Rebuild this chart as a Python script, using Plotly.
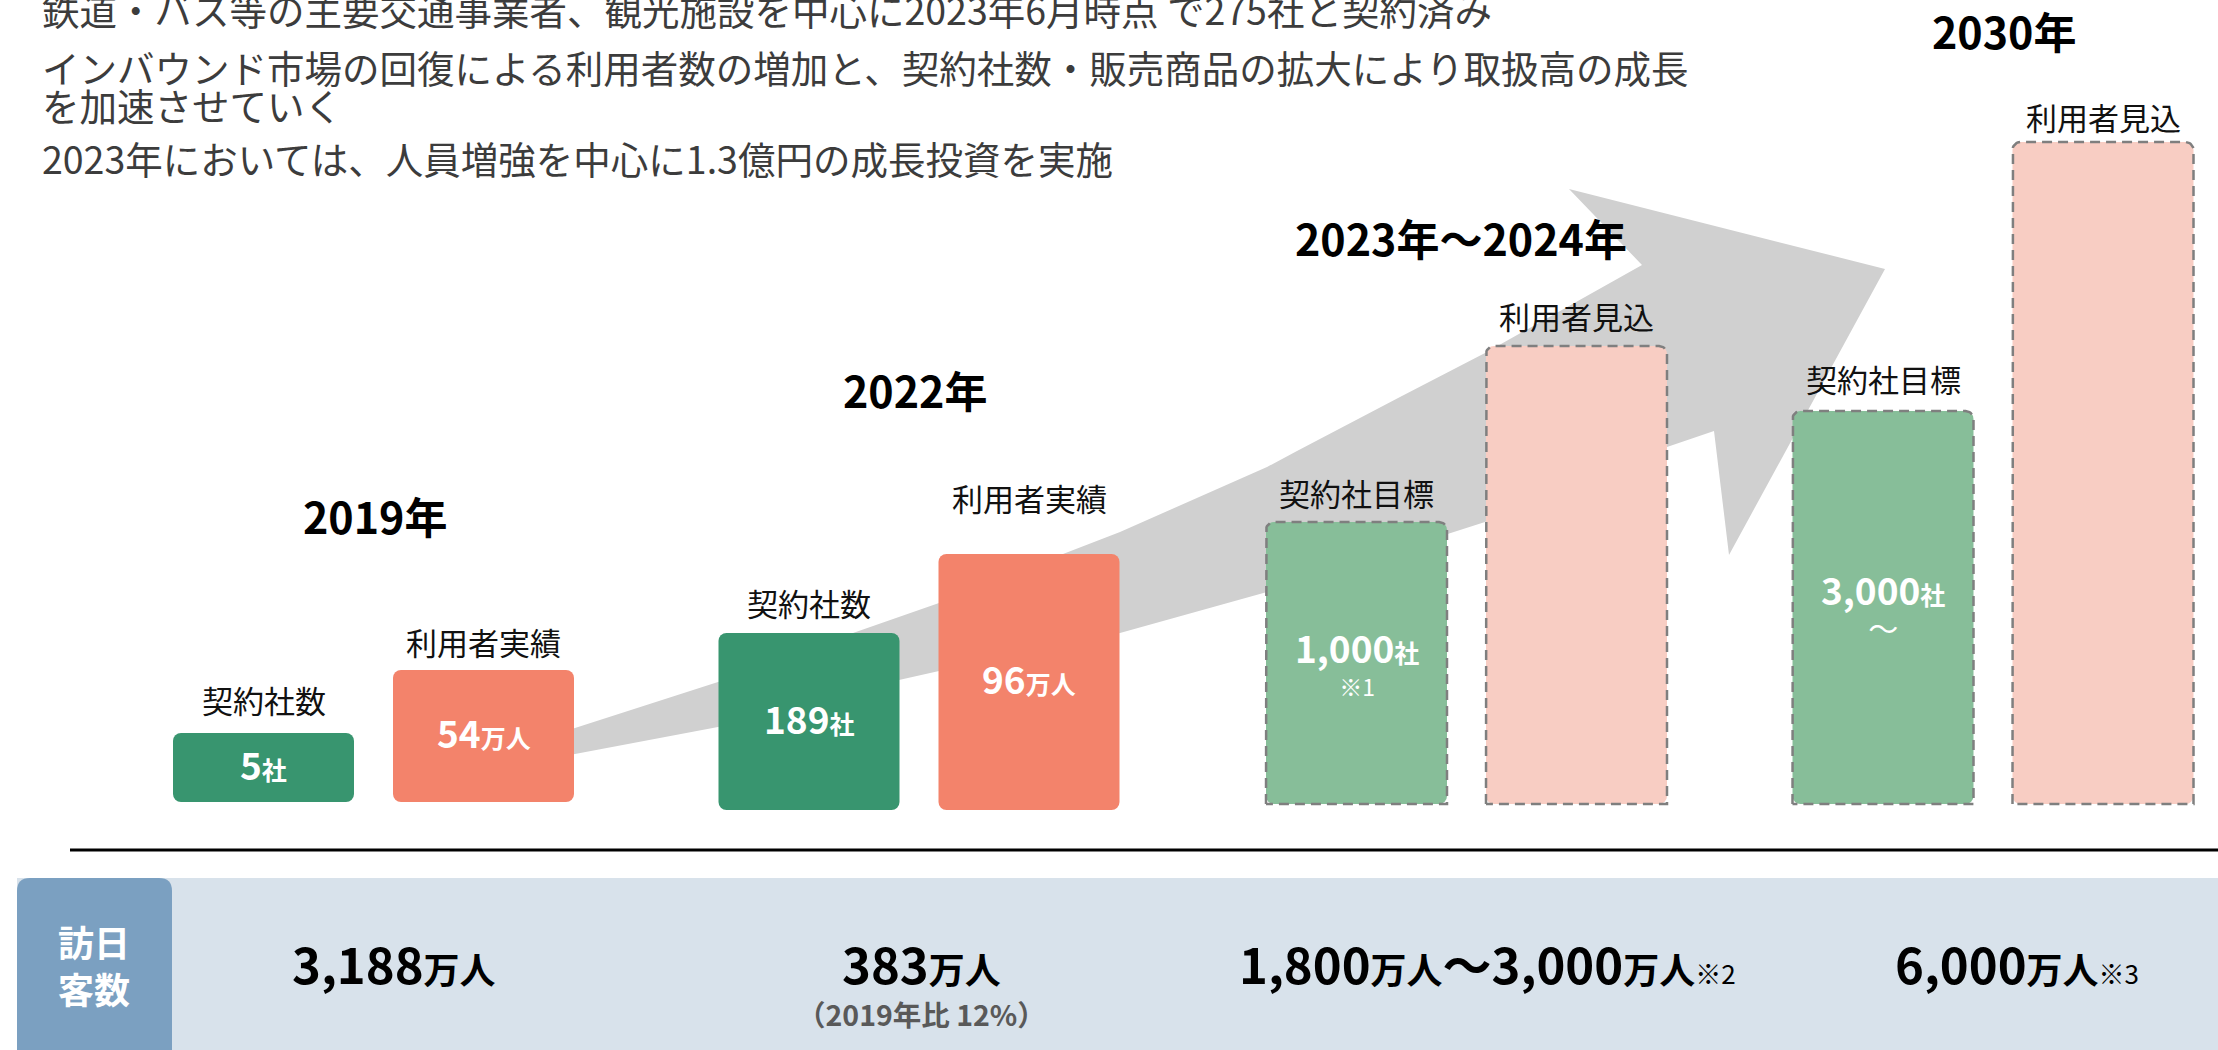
import numpy as np
import plotly.graph_objects as go

W, H = 2218, 1050
FONT = "Noto Sans CJK JP"

# ---------------- data ----------------
headline = [
    ["鉄道・バス等の主要交通事業者、観光施設を中心に2023年6月時点 で275社と契約済み"],
    ["インバウンド市場の回復による利用者数の増加と、契約社数・販売商品の拡大により取扱高の成長",
     "を加速させていく"],
    ["2023年においては、人員増強を中心に1.3億円の成長投資を実施"],
]
periods = ["2019年", "2022年", "2023年～2024年", "2030年"]
company_captions = ["契約社数", "契約社数", "契約社目標", "契約社目標"]
company_numbers = ["5", "189", "1,000", "3,000"]
company_notes = ["", "", "※1", "～"]
company_bar = [69, 177, 282, 393]          # illustrative bar heights
user_captions = ["利用者実績", "利用者実績", "利用者見込", "利用者見込"]
user_numbers = ["54", "96", "", ""]
user_bar = [132, 256, 458, 662]            # illustrative bar heights
is_forecast = [False, False, True, True]
visitor_title = "訪日<br>客数"
visitor_numbers = [["3,188"], ["383"], ["1,800", "3,000"], ["6,000"]]
visitor_notes = ["", "", "※2", "※3"]
visitor_sub = ["", "（2019年比 12%）", "", ""]

# ---------------- layout / style constants ----------------
group_x = [373.5, 919, 1466.5, 1993]
pair_off = 110
bar_w = 181
base_px = [802, 810, 804, 804]
cap_gap_c = [34, 31, 30, 33]
cap_gap_u = [29, 57, 31, 26]
year_pos = [(375, 515), (915, 389), (1461, 237), (2004, 30)]
visitor_x = [394, 921, 1487, 2017]
note_size = [0, 0, 23, 30]
note_base = [0, 0, 25, 27]
headline_y = [8, 85, 157]   # centre rows of each paragraph

C_DARK_GREEN = "#38956F"
C_SALMON = "#F3836B"
C_LIGHT_GREEN = "#87BE99"
C_LIGHT_SALMON = "#F8CDC3"
C_DASH = "#7F7F7F"
C_ARROW = "#D0D0D0"
C_BAND = "#D8E2EB"
C_BOX = "#7BA0C1"
C_TEXT = "#3C3C3C"


def yy(p):
    """convert a pixel row (top-down) to the upward y axis"""
    return H - p


cx = [g - pair_off for g in group_x]
ux = [g + pair_off for g in group_x]
bases = [yy(b) for b in base_px]

fig = go.Figure()

# ---------------- bars ----------------
fig.add_trace(go.Bar(
    x=cx, y=company_bar, base=bases, width=bar_w,
    marker=dict(color=[C_LIGHT_GREEN if f else C_DARK_GREEN for f in is_forecast],
                cornerradius=8, line=dict(width=0)),
    hoverinfo="skip", showlegend=False))
fig.add_trace(go.Bar(
    x=ux, y=user_bar, base=bases, width=bar_w,
    marker=dict(color=[C_LIGHT_SALMON if f else C_SALMON for f in is_forecast],
                cornerradius=8, line=dict(width=0)),
    hoverinfo="skip", showlegend=False))


def outline(xc, base, h, w=bar_w, r=8):
    x0, x1 = xc - w / 2, xc + w / 2
    top = base + h
    t = np.linspace(0, np.pi / 2, 10)
    xs = [x0] + list(x0 + r - r * np.cos(t)) + list(x1 - r + r * np.sin(t)) + [x1, x0]
    ys = [base] + list(top - r + r * np.sin(t)) + list(top - r + r * np.cos(t)) + [base, base]
    return xs, ys


ox, oy = [], []
for i, f in enumerate(is_forecast):
    if not f:
        continue
    for xc, h in ((cx[i], company_bar[i]), (ux[i], user_bar[i])):
        a, b = outline(xc, bases[i], h)
        ox += a + [None]
        oy += b + [None]
fig.add_trace(go.Scatter(x=ox, y=oy, mode="lines",
                         line=dict(color=C_DASH, width=2.5, dash="10px,6px"),
                         hoverinfo="skip", showlegend=False))

ann = []


def add_text(x, y, text, size, color="#000000", xanchor="center", yanchor="middle", align="center"):
    ann.append(dict(x=x, y=y, xref="x", yref="y", text=text, showarrow=False,
                    xanchor=xanchor, yanchor=yanchor, align=align,
                    font=dict(family=FONT, size=size, color=color)))


# captions above bars and values inside
for i in range(len(periods)):
    ctop = bases[i] + company_bar[i]
    utop = bases[i] + user_bar[i]
    add_text(cx[i], ctop + cap_gap_c[i], company_captions[i], 31, "#111111")
    add_text(ux[i], utop + cap_gap_u[i], user_captions[i], 31, "#111111")

    cmid = bases[i] + company_bar[i] / 2
    main = (f"<b><span style='font-size:37px'>{company_numbers[i]}</span>"
            f"<span style='font-size:25px'>社</span></b>")
    if company_notes[i]:
        # one block, tight line spacing
        txt = main + f"<br><span style='font-size:{note_size[i]}px'>{company_notes[i]}</span>"
        add_text(cx[i], cmid + 2, txt, note_base[i], "#FFFFFF")
    else:
        add_text(cx[i], cmid + 4, main, 37, "#FFFFFF")

    if user_numbers[i]:
        umid = bases[i] + user_bar[i] / 2
        add_text(ux[i], umid + 4,
                 f"<b>{user_numbers[i]}<span style='font-size:25px'>万人</span></b>",
                 37, "#FFFFFF")

    px, py = year_pos[i]
    add_text(px, yy(py), f"<b>{periods[i]}</b>", 43, "#000000")

# headline text (paragraphs; wrapped lines kept tight)
for para, py in zip(headline, headline_y):
    txt = "<br>".join(f"<span style='font-size:37.5px'>{ln}</span>" for ln in para)
    add_text(40, yy(py), txt, 29.5, C_TEXT, xanchor="left", align="left")

# visitor band texts
add_text(94, yy(964), f"<b>{visitor_title}</b>", 36, "#FFFFFF")
for i in range(len(periods)):
    parts = [f"{n}<span style='font-size:36px'>万人</span>" for n in visitor_numbers[i]]
    txt = "<b>" + "～".join(parts) + "</b>"
    if visitor_notes[i]:
        txt += f"<span style='font-size:26px'>{visitor_notes[i]}</span>"
    add_text(visitor_x[i], yy(962), txt, 49, "#000000")
    if visitor_sub[i]:
        add_text(visitor_x[i], yy(1013), f"<b>{visitor_sub[i]}</b>", 28.5, "#595959")

# ---------------- decorative shapes ----------------
arrow_px = [
    (500, 752), (575, 728), (718, 682), (853, 633), (939, 603), (1063, 554), (1120, 532),
    (1267, 467), (1297, 451), (1400, 397), (1485, 353), (1642, 265),
    (1569, 189), (1885, 269), (1729, 555), (1714, 431),
    (1667, 447), (1485, 522), (1267, 592), (1120, 633), (939, 671), (899, 680),
    (718, 727), (575, 754), (500, 768),
]
arrow_path = "M " + " L ".join(f"{x},{yy(y)}" for x, y in arrow_px) + " Z"

band_top = yy(878)
shapes = [
    dict(type="path", path=arrow_path, xref="x", yref="y", fillcolor=C_ARROW,
         line=dict(width=0), layer="below"),
    dict(type="line", x0=70, x1=W, y0=yy(850), y1=yy(850), xref="x", yref="y",
         line=dict(color="#000000", width=3), layer="below"),
    dict(type="rect", x0=17, x1=W, y0=-5, y1=band_top, xref="x", yref="y",
         fillcolor=C_BAND, line=dict(width=0), layer="below"),
    dict(type="path", xref="x", yref="y", fillcolor=C_BOX, line=dict(width=0), layer="below",
         path=(f"M 17,-5 L 17,{band_top - 13} Q 17,{band_top} 30,{band_top} "
               f"L 159,{band_top} Q 172,{band_top} 172,{band_top - 13} L 172,-5 Z")),
]

fig.update_layout(
    width=W, height=H,
    margin=dict(l=0, r=0, t=0, b=0, pad=0),
    paper_bgcolor="#FFFFFF", plot_bgcolor="#FFFFFF",
    barmode="overlay", showlegend=False, hovermode=False,
    xaxis=dict(range=[0, W], visible=False, fixedrange=True),
    yaxis=dict(range=[0, H], visible=False, fixedrange=True),
    annotations=ann, shapes=shapes,
    font=dict(family=FONT),
)

fig.write_html("out.html", config={"displayModeBar": False, "staticPlot": True},
               post_script="document.body.style.margin='0';document.body.style.overflow='hidden';")
